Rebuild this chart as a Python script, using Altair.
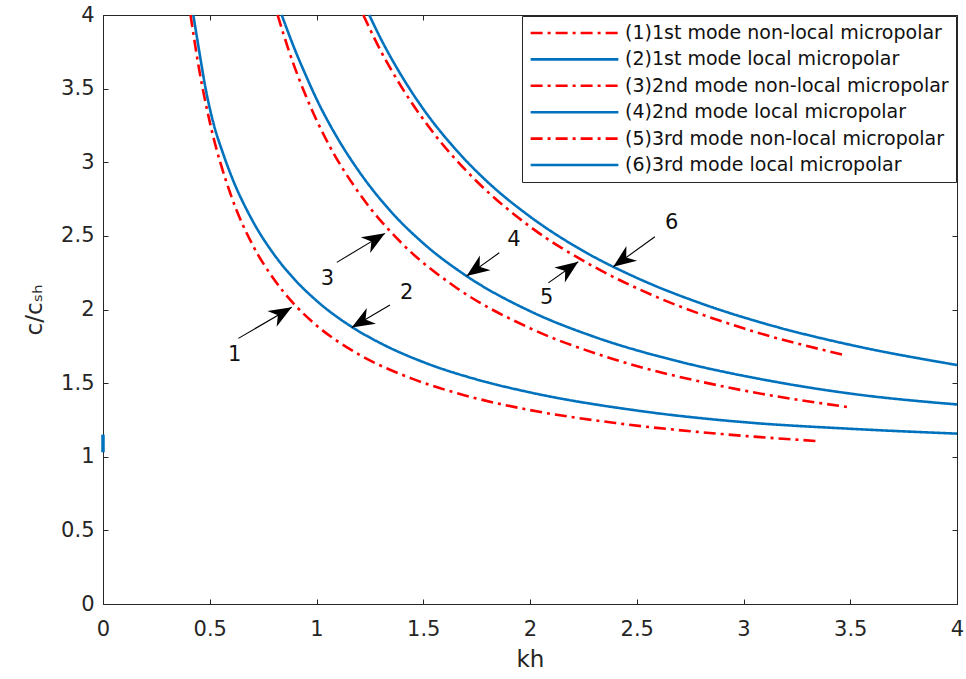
import math

import altair as alt
import pandas as pd

# ---- dispersion curves: phase velocity ratio c/c_sh against kh ----
series_names = [
    "(1)1st mode non-local micropolar",
    "(2)1st mode local micropolar",
    "(3)2nd mode non-local micropolar",
    "(4)2nd mode local micropolar",
    "(5)3rd mode non-local micropolar",
    "(6)3rd mode local micropolar",
]

kh_1 = [0.41, 0.45, 0.5, 0.6, 0.7, 0.8, 0.9, 1.0, 1.2, 1.45, 1.7, 2.0, 2.4, 2.9, 3.35]
c_1 = [4.0, 3.633, 3.274, 2.773, 2.441, 2.207, 2.029, 1.892, 1.694, 1.529, 1.415, 1.317, 1.229, 1.154, 1.106]

kh_2 = [0.423, 0.45, 0.482, 0.52, 0.56, 0.6, 0.7, 0.8, 0.9, 1.0, 1.165, 1.3, 1.5, 1.75, 2.0, 2.5, 3.0, 3.5, 4.0]
c_2 = [4.0, 3.76, 3.49, 3.25, 3.069, 2.911, 2.604, 2.376, 2.2, 2.06, 1.882, 1.771, 1.643, 1.525, 1.437, 1.314, 1.235, 1.19, 1.157]

kh_3 = [0.818, 0.87, 0.95, 1.05, 1.2, 1.4, 1.65, 2.0, 2.4, 2.9, 3.49]
c_3 = [4.0, 3.76, 3.451, 3.141, 2.789, 2.449, 2.153, 1.873, 1.659, 1.479, 1.337]

kh_4 = [0.837, 0.9, 0.95, 1.0, 1.1, 1.2, 1.35, 1.5, 1.7, 2.0, 2.3, 2.7, 3.1, 3.5, 4.0]
c_4 = [4.0, 3.76, 3.59, 3.43, 3.16, 2.936, 2.663, 2.45, 2.23, 1.989, 1.815, 1.646, 1.522, 1.429, 1.355]

kh_5 = [1.219, 1.3, 1.4, 1.55, 1.75, 2.0, 2.3, 2.6, 3.0, 3.475]
c_5 = [4.0, 3.759, 3.507, 3.195, 2.871, 2.563, 2.29, 2.081, 1.872, 1.69]

kh_6 = [1.247, 1.3, 1.4, 1.5, 1.65, 1.8, 2.0, 2.25, 2.5, 2.8, 3.1, 3.5, 4.0]
c_6 = [4.0, 3.842, 3.583, 3.362, 3.09, 2.868, 2.631, 2.397, 2.215, 2.042, 1.904, 1.76, 1.623]

# short branch of the 1st local mode at kh = 0
branch_kh = [0.0]
branch_c_low = [1.03]
branch_c_high = [1.15]

# ---- arrow call-outs ----
arrow_ids = ["1", "2", "3", "4", "5", "6"]
arrow_tail_kh = [0.634, 1.344, 1.095, 1.856, 2.086, 2.585]
arrow_tail_c = [1.804, 2.03, 2.32, 2.385, 2.181, 2.494]
arrow_tip_kh = [0.884, 1.165, 1.321, 1.703, 2.226, 2.39]
arrow_tip_c = [2.015, 1.878, 2.517, 2.227, 2.324, 2.29]
arrow_label_kh = [0.617, 1.422, 1.051, 1.925, 2.078, 2.664]
arrow_label_c = [1.691, 2.109, 2.206, 2.471, 2.075, 2.585]

x_ticks = [0, 0.5, 1, 1.5, 2, 2.5, 3, 3.5, 4]
y_ticks = [0, 0.5, 1, 1.5, 2, 2.5, 3, 3.5, 4]

series_colors = ["#FF0000", "#0072BD", "#FF0000", "#0072BD", "#FF0000", "#0072BD"]
dash_dot = [12, 5, 3, 5]
solid = [1, 0]
series_dashes = [dash_dot, solid, dash_dot, solid, dash_dot, solid]

W, H = 854, 589
FONT = "DejaVu Sans"
AX = "#262626"

curves = [(kh_1, c_1), (kh_2, c_2), (kh_3, c_3), (kh_4, c_4), (kh_5, c_5), (kh_6, c_6)]
rows = []
for name, (ks, cs) in zip(series_names, curves):
    for k, c in zip(ks, cs):
        rows.append({"series": name, "kh": k, "c": c})
curve_df = pd.DataFrame(rows)

arrow_rows = []
head_rows = []
for i, a in enumerate(arrow_ids):
    arrow_rows.append({"arrow": a, "pt": 0, "kh": arrow_tail_kh[i], "c": arrow_tail_c[i]})
    arrow_rows.append({"arrow": a, "pt": 1, "kh": arrow_tip_kh[i], "c": arrow_tip_c[i]})
    dx = (arrow_tip_kh[i] - arrow_tail_kh[i]) * W / 4.0
    dy = -(arrow_tip_c[i] - arrow_tail_c[i]) * H / 4.0
    ang = math.degrees(math.atan2(dx, -dy)) % 360
    head_rows.append({"arrow": a, "kh": arrow_tip_kh[i], "c": arrow_tip_c[i], "angle": ang})
arrow_df = pd.DataFrame(arrow_rows)
head_df = pd.DataFrame(head_rows)
label_df = pd.DataFrame({"text": arrow_ids, "kh": arrow_label_kh, "c": arrow_label_c})
branch_df = pd.DataFrame({"kh": branch_kh, "lo": branch_c_low, "hi": branch_c_high})
tick_df = pd.DataFrame({"kh": x_ticks, "c": y_ticks})

xs = alt.Scale(domain=[0, 4], nice=False, zero=False)
ys = alt.Scale(domain=[0, 4], nice=False, zero=False)

common_axis = dict(
    domain=False, grid=False, tickSize=5, offset=-5, tickColor=AX, tickWidth=1,
    labelFont=FONT, labelFontSize=21, labelColor=AX, labelFlush=False, titleFont=FONT,
    titleFontSize=23, titleColor=AX, titleFontWeight="normal", format="~g",
)

lines = alt.Chart(curve_df).mark_line(strokeWidth=2.6, interpolate="monotone").encode(
    x=alt.X("kh:Q", scale=xs, axis=alt.Axis(values=x_ticks, title="kh", labelPadding=14,
                                            titlePadding=9, **common_axis)),
    y=alt.Y("c:Q", scale=ys, axis=alt.Axis(values=y_ticks, title="c/cₛₕ", labelPadding=9,
                                           titlePadding=14, **common_axis)),
    color=alt.Color("series:N", scale=alt.Scale(domain=series_names, range=series_colors),
                    legend=alt.Legend(title=None)),
    strokeDash=alt.StrokeDash("series:N", scale=alt.Scale(domain=series_names, range=series_dashes),
                              legend=alt.Legend(title=None)),
    order=alt.Order("kh:Q"),
)

frame_ticks = alt.Chart(tick_df).mark_point(opacity=0).encode(
    x=alt.X("kh:Q", scale=xs, axis=alt.Axis(orient="top", values=x_ticks, labels=False, title=None,
                                            domain=False, grid=False, tickSize=5, offset=-5,
                                            tickColor=AX)),
    y=alt.Y("c:Q", scale=ys, axis=alt.Axis(orient="right", values=y_ticks, labels=False, title=None,
                                           domain=False, grid=False, tickSize=5, offset=-5,
                                           tickColor=AX)),
)

branch = alt.Chart(branch_df).mark_rule(color="#0072BD", strokeWidth=3.5).encode(
    x=alt.X("kh:Q", scale=xs, axis=None),
    y=alt.Y("lo:Q", scale=ys, axis=None),
    y2="hi:Q",
)

arrow_lines = alt.Chart(arrow_df).mark_line(color="black", strokeWidth=1.1).encode(
    x=alt.X("kh:Q", scale=xs, axis=None),
    y=alt.Y("c:Q", scale=ys, axis=None),
    detail="arrow:N",
    order=alt.Order("pt:O"),
)

arrow_heads = alt.Chart(head_df).mark_point(
    shape="M0,0 L0.8,2.0 L0,1.4 L-0.8,2.0 Z", filled=True, color="black", opacity=1,
    size=520, strokeWidth=0,
).encode(
    x=alt.X("kh:Q", scale=xs, axis=None),
    y=alt.Y("c:Q", scale=ys, axis=None),
    angle=alt.Angle("angle:Q", scale=None),
)

arrow_labels = alt.Chart(label_df).mark_text(font=FONT, fontSize=21, color="#111111").encode(
    x=alt.X("kh:Q", scale=xs, axis=None),
    y=alt.Y("c:Q", scale=ys, axis=None),
    text="text:N",
)

chart = alt.layer(lines, frame_ticks, branch, arrow_lines, arrow_heads, arrow_labels).resolve_axis(
    x="independent", y="independent"
).properties(
    width=W, height=H,
    autosize=alt.AutoSizeParams(type="none"),
    padding={"left": 103, "top": 15, "right": 9, "bottom": 75},
    background="white",
).configure_view(
    stroke=AX, strokeWidth=1,
).configure_legend(
    orient="top-right", offset=1, padding=7, strokeColor=AX, fillColor="white",
    symbolType="stroke", symbolSize=7700, symbolStrokeWidth=2.6, clipHeight=20,
    labelFont=FONT, labelFontSize=19, labelColor="#111111", labelOffset=5,
    rowPadding=6.4, labelLimit=500,
)

chart.save("out.html", embed_options={"renderer": "svg", "actions": False})
